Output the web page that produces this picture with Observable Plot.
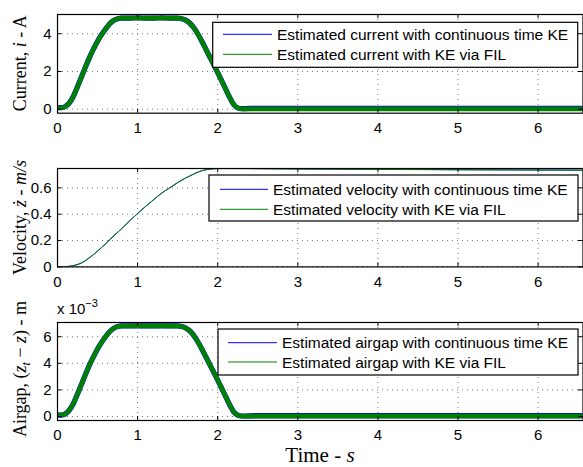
<!DOCTYPE html>
<html>
<head>
<meta charset="utf-8">
<script src="https://cdn.jsdelivr.net/npm/d3@7"></script>
<script src="https://cdn.jsdelivr.net/npm/@observablehq/plot@0.6"></script>
<style>
  html, body { margin: 0; padding: 0; background: #fff; }
  #chart { position: relative; width: 583px; height: 467px; overflow: hidden; background: #fff; }
  #chart svg { position: absolute; left: 0; }
</style>
</head>
<body>
<div id="chart"></div>
<script>
// ---- data ----
const xTicks = [0, 1, 2, 3, 4, 5, 6];
const currentTicks = [0, 2, 4];
const velocityTicks = [0, 0.2, 0.4, 0.6];
const airgapTicks = [0, 0.002, 0.004, 0.006];

// time base for current and airgap (s)
const tA = [0,0.05,0.1,0.15,0.2,0.25,0.3,0.35,0.4,0.45,0.5,0.55,0.6,0.65,0.7,0.75,0.8,0.9,1.0,1.1,1.2,1.3,1.4,1.5,1.55,1.6,1.65,1.7,1.75,1.8,1.85,1.9,1.95,2.0,2.05,2.1,2.15,2.2,2.25,2.3,2.5,3.0,3.5,4.0,4.5,5.0,5.5,6.0,6.56];
// current (A)
const currentKE  = [0.08,0.08,0.15,0.35,0.7,1.2,1.72,2.25,2.75,3.2,3.6,3.95,4.25,4.52,4.7,4.8,4.83,4.83,4.84,4.83,4.83,4.84,4.83,4.83,4.8,4.72,4.57,4.33,4.0,3.62,3.2,2.78,2.36,1.94,1.5,1.06,0.62,0.25,0.07,0.03,0.05,0.05,0.05,0.05,0.05,0.05,0.05,0.05,0.05];
const currentFIL = [0.08,0.08,0.15,0.35,0.7,1.2,1.72,2.25,2.75,3.2,3.6,3.95,4.25,4.52,4.7,4.8,4.83,4.83,4.84,4.83,4.83,4.84,4.83,4.83,4.8,4.72,4.57,4.33,4.0,3.62,3.2,2.78,2.36,1.94,1.5,1.06,0.62,0.25,0.07,0.02,0.02,0.02,0.02,0.02,0.02,0.02,0.02,0.02,0.02];
// airgap (m)
const airgapKE  = [0.00011,0.00011,0.00021,0.0005,0.001,0.0017,0.00243,0.00317,0.00388,0.0045,0.00508,0.00557,0.006,0.00637,0.00663,0.00677,0.00681,0.00681,0.00682,0.00681,0.00681,0.00682,0.00681,0.00681,0.00677,0.00666,0.00645,0.0061,0.00564,0.0051,0.00451,0.00392,0.00333,0.00274,0.00212,0.0015,0.00087,0.00035,0.0001,0.00004,0.00007,0.00007,0.00007,0.00007,0.00007,0.00007,0.00007,0.00007,0.00007];
const airgapFIL = [0.00011,0.00011,0.00021,0.0005,0.001,0.0017,0.00243,0.00317,0.00388,0.0045,0.00508,0.00557,0.006,0.00637,0.00663,0.00677,0.00681,0.00681,0.00682,0.00681,0.00681,0.00682,0.00681,0.00681,0.00677,0.00666,0.00645,0.0061,0.00564,0.0051,0.00451,0.00392,0.00333,0.00274,0.00212,0.0015,0.00087,0.00035,0.0001,0.00003,0.00003,0.00003,0.00003,0.00003,0.00003,0.00003,0.00003,0.00003,0.00003];
// velocity (m/s)
const tV = [0,0.1,0.2,0.3,0.4,0.5,0.6,0.7,0.8,0.9,1.0,1.1,1.2,1.3,1.4,1.5,1.6,1.7,1.8,1.9,2.0,2.2,2.5,3.0,4.0,5.0,6.0,6.56];
const velocityKE  = [0,0.002,0.01,0.03,0.07,0.12,0.175,0.235,0.29,0.35,0.405,0.46,0.51,0.56,0.6,0.64,0.675,0.705,0.73,0.742,0.747,0.748,0.746,0.744,0.741,0.738,0.736,0.735];
const velocityFIL = [0,0.002,0.01,0.03,0.07,0.12,0.175,0.235,0.29,0.35,0.405,0.46,0.51,0.56,0.6,0.64,0.675,0.705,0.73,0.742,0.746,0.746,0.745,0.743,0.74,0.737,0.735,0.734];

const BLUE = "#0000ff", GREEN = "#008000";
const chart = document.getElementById("chart");

function panel({top, bottom, yDomain, yTicks, yFormat, t, ke, fil, wKE, wFIL}) {
  const mt = 14, mb = 30;
  const ih = bottom - top;
  const dataKE = t.map((x, i) => ({x, y: ke[i]}));
  const dataFIL = t.map((x, i) => ({x, y: fil[i]}));
  const grid = {stroke: "#555", strokeOpacity: 0.8, strokeDasharray: "1,4", strokeWidth: 1};
  const svg = Plot.plot({
    width: 583,
    height: mt + ih + mb,
    marginTop: mt, marginBottom: mb, marginLeft: 57, marginRight: 0.5,
    style: {fontFamily: "'Liberation Sans', Arial, sans-serif", fontSize: "15px", background: "transparent", overflow: "visible", color: "#000"},
    x: {domain: [0, 6.56]},
    y: {domain: yDomain},
    marks: [
      Plot.gridX(xTicks, grid),
      Plot.gridY(yTicks, grid),
      Plot.line(dataKE, {x: "x", y: "y", stroke: BLUE, strokeWidth: wKE, clip: true, curve: "monotone-x"}),
      Plot.line(dataFIL, {x: "x", y: "y", stroke: GREEN, strokeWidth: wFIL, clip: true, curve: "monotone-x"}),
      Plot.ruleX(xTicks, {x: d => d, insetTop: ih - 4, stroke: "#000"}),
      Plot.ruleX(xTicks, {x: d => d, insetBottom: ih - 4, stroke: "#000"}),
      Plot.ruleY(yTicks, {y: d => d, insetRight: 521, stroke: "#000"}),
      Plot.ruleY(yTicks, {y: d => d, insetLeft: 521, stroke: "#000"}),
      Plot.frame({stroke: "#000", strokeWidth: 1.2}),
      Plot.axisX(xTicks, {anchor: "bottom", tickSize: 0, tickPadding: 9, fontSize: 15, label: null, tickFormat: d => String(d)}),
      Plot.axisY(yTicks, {anchor: "left", tickSize: 0, tickPadding: 6, fontSize: 15, label: null, tickFormat: yFormat})
    ]
  });
  svg.style.top = (top - mt) + "px";
  chart.appendChild(svg);
}

panel({top: 14, bottom: 112.7, yDomain: [-0.21, 5.02], yTicks: currentTicks, yFormat: d => String(d),
       t: tA, ke: currentKE, fil: currentFIL, wKE: 5.2, wFIL: 4.6});
panel({top: 168.3, bottom: 266.7, yDomain: [0, 0.747], yTicks: velocityTicks, yFormat: d => String(d),
       t: tV, ke: velocityKE, fil: velocityFIL, wKE: 1, wFIL: 1});
panel({top: 322, bottom: 420, yDomain: [-0.0003, 0.00707], yTicks: airgapTicks, yFormat: d => String(Math.round(d * 1000)),
       t: tA, ke: airgapKE, fil: airgapFIL, wKE: 5.2, wFIL: 4.6});

// ---- overlay: labels and legends ----
const ov = d3.select(chart).append("svg")
  .attr("width", 583).attr("height", 467)
  .style("top", "0px").style("pointer-events", "none");

const serif = "'Liberation Serif', 'Times New Roman', serif";
function ylabel(cy, build) {
  const t = ov.append("text")
    .attr("transform", `translate(26,${cy}) rotate(-90)`)
    .attr("text-anchor", "middle")
    .attr("font-family", serif).attr("font-size", 18).attr("fill", "#000");
  build(t);
}
ylabel(63.3, t => {
  t.append("tspan").text("Current, ");
  t.append("tspan").attr("font-style", "italic").text("i");
  t.append("tspan").text(" - A");
});
ylabel(217.5, t => {
  t.append("tspan").text("Velocity, ");
  t.append("tspan").attr("font-style", "italic").text("z\u0307");
  t.append("tspan").text(" - ");
  t.append("tspan").attr("font-style", "italic").text("m/s");
});
ylabel(369, t => {
  t.append("tspan").text("Airgap, (");
  t.append("tspan").attr("font-style", "italic").text("z");
  t.append("tspan").attr("font-style", "italic").attr("font-size", 12).attr("dy", 4).text("t");
  t.append("tspan").attr("dy", -4).text(" \u2212 ");
  t.append("tspan").attr("font-style", "italic").text("z");
  t.append("tspan").text(") - m");
});

// x label
const xl = ov.append("text").attr("x", 320).attr("y", 462).attr("text-anchor", "middle")
  .attr("font-family", serif).attr("font-size", 21).attr("fill", "#000");
xl.append("tspan").text("Time - ");
xl.append("tspan").attr("font-style", "italic").text("s");

// exponent
const ex = ov.append("text").attr("x", 57).attr("y", 313.5)
  .attr("font-family", "'Liberation Sans', Arial, sans-serif").attr("font-size", 15).attr("fill", "#000");
ex.append("tspan").text("x 10");
ex.append("tspan").attr("font-size", 11).attr("dy", -7).text("\u22123");

// legends
function legend({x, y, w, h, l1, l2, lx0, lx1, tx, labels}) {
  ov.append("rect").attr("x", x).attr("y", y).attr("width", w).attr("height", h)
    .attr("fill", "#fff").attr("stroke", "#000").attr("stroke-width", 1.2);
  const rows = [[l1, BLUE, labels[0]], [l2, GREEN, labels[1]]];
  for (const [ly, c, txt] of rows) {
    ov.append("line").attr("x1", lx0).attr("x2", lx1).attr("y1", ly).attr("y2", ly)
      .attr("stroke", c).attr("stroke-width", 1);
    ov.append("text").attr("x", tx).attr("y", ly + 5.5)
      .attr("font-family", "'Liberation Sans', Arial, sans-serif").attr("font-size", 15.5).attr("fill", "#000")
      .text(txt);
  }
}
const legendCurrent = ["Estimated current with continuous time KE", "Estimated current with KE via FIL"];
const legendVelocity = ["Estimated velocity with continuous time KE", "Estimated velocity with KE via FIL"];
const legendAirgap = ["Estimated airgap with continuous time KE", "Estimated airgap with KE via FIL"];
legend({x: 212.7, y: 22.3, w: 365, h: 45, l1: 34.3, l2: 54.3, lx0: 223, lx1: 272, tx: 277, labels: legendCurrent});
legend({x: 209, y: 175, w: 369, h: 46, l1: 189.3, l2: 209.3, lx0: 220, lx1: 268, tx: 273, labels: legendVelocity});
legend({x: 218, y: 329, w: 360, h: 46, l1: 342.7, l2: 362, lx0: 228, lx1: 277, tx: 282, labels: legendAirgap});
</script>
</body>
</html>
